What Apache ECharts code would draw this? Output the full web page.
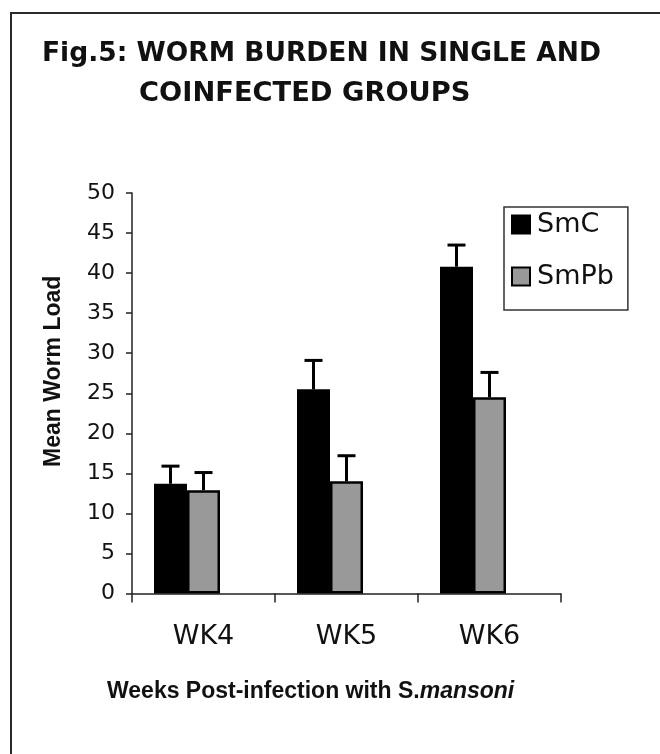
<!DOCTYPE html>
<html>
<head>
<meta charset="utf-8">
<script src="https://cdn.jsdelivr.net/npm/echarts@6/dist/echarts.min.js"></script>
<style>
  html, body { margin: 0; padding: 0; background: #fff; }
  #chart { width: 660px; height: 754px; }
</style>
</head>
<body>
<div id="chart"></div>
<script>
// ---- data ----
const categories = ['WK4', 'WK5', 'WK6'];
const seriesNames = ['SmC', 'SmPb'];
const smcMean = [13.7, 25.5, 40.8];
const smcErr = [2.2, 3.6, 2.7];
const smpbMean = [12.9, 14.0, 24.5];
const smpbErr = [2.2, 3.2, 3.1];
const yMin = 0, yMax = 50, yStep = 5;
const titleLine1 = 'Fig.5: WORM BURDEN IN SINGLE AND';
const titleLine2 = 'COINFECTED GROUPS';
const yAxisName = 'Mean Worm Load';

// ---- styling constants ----
const BAR_W = 33;
const INK = '#111';
const GREY = '#999999';

const chart = echarts.init(document.getElementById('chart'), null, { renderer: 'canvas' });

function errorSeries(name, means, errs, offset) {
  return {
    name: name + ' error',
    type: 'custom',
    z: 5,
    data: categories.map((c, i) => [i, means[i], means[i] + errs[i]]),
    renderItem: function (params, api) {
      const base = api.coord([api.value(0), api.value(1)]);
      const top = api.coord([api.value(0), api.value(2)]);
      const x = base[0] + offset;
      const style = { stroke: '#000', lineWidth: 3 };
      return {
        type: 'group',
        children: [
          { type: 'line', shape: { x1: x, y1: base[1], x2: x, y2: top[1] }, style: style },
          { type: 'line', shape: { x1: x - 9, y1: top[1], x2: x + 9, y2: top[1] }, style: style }
        ]
      };
    }
  };
}

const option = {
  backgroundColor: '#fff',
  animation: false,
  title: [
    {
      text: titleLine1, left: 37, top: 36,
      textStyle: { fontFamily: 'DejaVu Sans', fontWeight: 'bold', fontSize: 26.5, color: INK }
    },
    {
      text: titleLine2, left: 134, top: 75,
      textStyle: { fontFamily: 'DejaVu Sans', fontWeight: 'bold', fontSize: 27.3, color: INK }
    },
    {
      text: '{n|Weeks Post-infection with S.}{i|mansoni}', left: 102, top: 675,
      textStyle: {
        rich: {
          n: { fontFamily: 'Liberation Sans', fontWeight: 'bold', fontSize: 23, color: INK },
          i: { fontFamily: 'Liberation Sans', fontWeight: 'bold', fontStyle: 'italic', fontSize: 23, color: INK }
        }
      }
    }
  ],
  graphic: [
    {
      type: 'polyline', silent: true, z: -1,
      shape: { points: [[11, 760], [11, 13], [670, 13]] },
      style: { fill: null, stroke: '#2a2a2a', lineWidth: 2 }
    }
  ],
  legend: {
    data: seriesNames,
    orient: 'vertical',
    left: 504, top: 207,
    padding: [4, 14, 20, 7],
    itemWidth: 18, itemHeight: 18,
    itemGap: 25,
    icon: 'rect',
    borderColor: '#333', borderWidth: 1.5,
    backgroundColor: '#fff',
    textStyle: { fontFamily: 'DejaVu Sans', fontSize: 27, color: INK, padding: [0, 0, 0, 2] }
  },
  grid: { left: 132, top: 193, width: 429, height: 400.5, containLabel: false },
  xAxis: {
    type: 'category',
    data: categories,
    axisLine: { show: true, lineStyle: { color: '#222', width: 1.5 } },
    axisTick: { show: true, length: 9, lineStyle: { color: '#222', width: 1.5 } },
    axisLabel: { margin: 30, fontFamily: 'DejaVu Sans', fontSize: 27, color: INK },
    splitLine: { show: false }
  },
  yAxis: {
    type: 'value',
    min: yMin, max: yMax, interval: yStep,
    name: yAxisName,
    nameLocation: 'middle',
    nameGap: 67,
    nameTextStyle: {
      fontFamily: 'Liberation Sans', fontWeight: 'bold', fontSize: 23, color: INK,
      padding: [0, 0, 0, 44]
    },
    axisLine: { show: true, lineStyle: { color: '#222', width: 1.5 } },
    axisTick: { show: true, length: 6, lineStyle: { color: '#222', width: 1.5 } },
    axisLabel: { margin: 17, fontFamily: 'DejaVu Sans', fontSize: 22, color: INK },
    splitLine: { show: false }
  },
  series: [
    {
      name: seriesNames[0], type: 'bar', data: smcMean, barWidth: BAR_W, barGap: '0%',
      itemStyle: { color: '#000', borderColor: '#000', borderWidth: 2.5 }
    },
    {
      name: seriesNames[1], type: 'bar', data: smpbMean, barWidth: BAR_W, barGap: '0%',
      itemStyle: { color: GREY, borderColor: '#000', borderWidth: 2.5 }
    },
    {
      name: 'spacer', type: 'bar', data: categories.map(() => '-'), barWidth: BAR_W, barGap: '0%',
      itemStyle: { color: 'transparent' }, silent: true
    },
    errorSeries(seriesNames[0], smcMean, smcErr, -BAR_W),
    errorSeries(seriesNames[1], smpbMean, smpbErr, 0)
  ]
};
chart.setOption(option);
</script>
</body>
</html>
